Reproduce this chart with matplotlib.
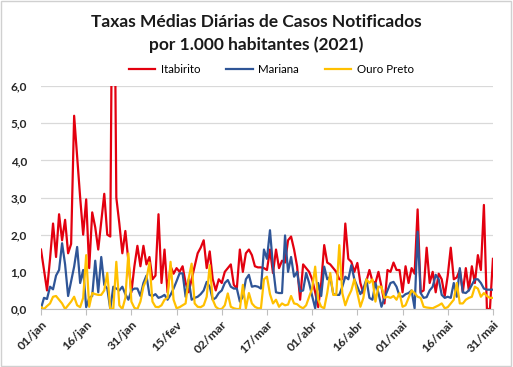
import matplotlib
matplotlib.use("Agg")
import matplotlib.pyplot as plt
import numpy as np
import pandas as pd
from matplotlib.patches import Rectangle

# daily rates per 1,000 inhabitants, 01/jan .. 31/mai 2021
itabirito = [
    1.6, 1.05, 0.5, 1.35, 2.3, 1.4, 2.55, 1.85, 2.4, 1.5,
    1.75, 5.2, 4.1, 3.0, 2.0, 2.95, 1.1, 2.6, 2.2, 1.6,
    2.35, 3.1, 2.0, 1.95, 13.0, 3.0, 2.3, 1.5, 2.1, 1.3,
    0.45, 1.15, 1.7, 1.15, 1.7, 1.2, 1.4, 0.8, 0.9, 2.55,
    0.7, 1.6, 0.45, 1.15, 0.95, 1.1, 1.0, 1.15, 0.7, 0.45,
    0.8, 1.15, 1.5, 1.65, 1.85, 1.1, 1.55, 0.8, 0.5, 0.8,
    0.7, 1.0, 1.1, 1.2, 0.65, 0.55, 1.6, 1.0, 1.5, 1.6,
    1.45, 1.15, 1.12, 1.12, 1.1, 1.05, 1.6, 0.97, 1.6, 1.1,
    1.3, 1.25, 1.85, 1.95, 1.6, 1.15, 0.25, 1.2, 1.1, 1.0,
    0.8, 0.45, 0.05, 0.7, 1.72, 1.25, 1.2, 1.1, 1.0, 0.8,
    0.8, 2.3, 1.35, 1.27, 1.0, 1.24, 0.7, 0.42, 0.75, 1.05,
    0.75, 0.7, 1.0, 0.6, 0.15, 1.05, 1.0, 1.25, 1.05, 1.05,
    0.45, 1.15, 0.7, 1.1, 0.95, 2.68, 0.45, 0.5, 1.65, 0.7,
    1.0, 0.45, 0.95, 0.8, 0.35, 0.9, 1.65, 0.8, 0.85, 1.05,
    0.45, 1.1, 0.5, 1.15, 0.7, 1.45, 1.05, 2.8, 0.0, 0.0,
    1.35,
]
mariana = [
    0.02, 0.3, 0.27, 0.6, 0.53, 0.9, 1.05, 1.77, 1.2, 0.35,
    0.75, 1.14, 1.67, 0.7, 1.05, 0.05, 0.3, 0.35, 1.3, 0.45,
    1.4, 0.65, 0.55, 0.0, 0.6, 0.55, 0.5, 0.6, 0.4, 0.25,
    0.5, 0.55, 0.55, 0.35, 0.7, 0.9, 0.38, 0.35, 0.4, 0.3,
    0.33, 0.38, 0.25, 0.38, 0.55, 0.75, 0.96, 0.96, 0.33, 0.8,
    0.25, 0.3, 0.33, 0.4, 0.5, 0.73, 0.6, 0.25, 0.3, 0.43,
    0.5, 0.7, 0.78, 0.6, 0.55, 0.55, 0.2, 0.33, 0.8, 0.92,
    0.6, 0.62, 0.6, 0.55, 1.6, 1.35, 2.12, 1.14, 0.45, 0.43,
    0.43, 1.98, 1.0, 1.4, 0.87, 1.0, 0.47, 0.5, 0.97, 0.7,
    0.35, 0.02, 0.7, 0.35, 1.14, 0.8, 0.87, 0.4, 0.38, 0.38,
    0.6, 0.87, 0.8, 1.18, 0.8, 0.6, 0.4, 0.55, 0.8, 0.3,
    0.25, 0.7, 0.43, 0.06, 0.3, 0.5, 0.7, 0.73, 0.6, 0.35,
    0.33, 0.4, 0.43, 0.5, 0.02, 2.08, 0.43, 0.3, 0.32, 0.5,
    0.6, 0.92, 0.8, 0.38, 0.3, 0.33, 0.3, 0.7, 0.33, 1.1,
    0.45, 0.43, 0.5, 0.65, 0.8, 0.8, 0.7, 0.55, 0.52, 0.52,
    0.52,
]
ouro_preto = [
    0.05, 0.0, 0.08, 0.15, 0.33, 0.35, 0.25, 0.15, 0.0, 0.1,
    0.2, 0.33, 0.1, 0.05, 0.3, 1.45, 0.06, 0.43, 0.4, 0.38,
    0.38, 0.5, 0.97, 0.0, 0.0, 1.27, 0.1, 0.0, 0.3, 1.5,
    0.2, 0.03, 0.0, 0.2, 0.6, 0.8, 1.25, 0.2, 0.06, 0.05,
    0.1, 0.25, 0.3, 1.27, 0.25, 0.02, 0.05, 0.1, 0.15, 0.82,
    1.22, 0.15, 0.06, 0.05, 0.1, 0.33, 1.18, 0.25, 0.06, 0.0,
    0.0, 0.1, 0.42, 0.06, 0.02, 0.0, 0.0, 0.65, 0.02, 0.43,
    0.15, 0.06, 0.02, 0.02, 0.8, 0.87, 0.4, 0.15, 0.25, 0.06,
    0.15, 0.1, 0.12, 0.35, 0.15, 0.13, 0.06, 0.02, 0.1, 0.33,
    0.55, 1.14, 0.25, 0.06, 0.02, 0.43, 0.97, 0.38, 0.38, 1.72,
    0.43, 0.1, 0.33, 0.5, 0.8, 0.43, 0.06, 0.3, 0.8, 0.7,
    0.8, 0.2, 0.6, 0.6, 0.3, 0.33, 0.3, 0.35, 0.25, 0.43,
    0.06, 0.1, 0.3, 0.5, 0.43, 0.33, 0.3, 0.06, 0.04, 0.03,
    0.02, 0.06, 0.1, 0.15, 0.02, 0.05, 0.15, 0.25, 0.7, 0.15,
    0.15, 0.25, 0.3, 0.33, 0.6, 0.55, 0.33, 0.43, 0.35, 0.3,
    0.3,
]
series_names = ["Itabirito", "Mariana", "Ouro Preto"]
series_colors = ["#e3000f", "#2f5597", "#ffc000"]
tick_labels = ["01/jan", "16/jan", "31/jan", "15/fev", "02/mar", "17/mar",
               "01/abr", "16/abr", "01/mai", "16/mai", "31/mai"]
y_ticks = [0, 1, 2, 3, 4, 5, 6]

dates = pd.date_range("2021-01-01", "2021-05-31", freq="D")
x = np.arange(len(dates))

plt.rcParams["font.family"] = ["Lato", "DejaVu Sans"]

fig = plt.figure(figsize=(5.13, 3.67), dpi=100)
fig.patch.set_facecolor("white")
fig.add_artist(Rectangle((0.002, 0.003), 0.995, 0.994, transform=fig.transFigure,
                         fill=False, edgecolor="#d0d0d0", lw=1.0))

ax = fig.add_axes([0.0799, 0.158, 0.881, 0.6076])
for name, vals, color in zip(series_names, [itabirito, mariana, ouro_preto], series_colors):
    ax.plot(x, vals, color=color, lw=1.6, label=name, solid_joinstyle="round")

ax.set_xlim(0, len(x) - 1)
ax.set_ylim(0, 6)
ax.set_yticks(y_ticks)
ax.set_yticklabels([f"{v:.1f}".replace(".", ",") for v in y_ticks],
                   fontsize=8.5, fontweight="bold", color="#262626")
ax.set_xticks(x[::15])
ax.set_xticklabels(tick_labels, rotation=45, ha="right", rotation_mode="anchor",
                   fontsize=8.8, fontweight="bold", color="#262626")
ax.tick_params(axis="y", length=0, pad=10)
ax.tick_params(axis="x", length=4, color="#bfbfbf", pad=3)
ax.grid(axis="y", color="#d9d9d9", lw=0.9)
ax.set_axisbelow(True)
for side in ["top", "right", "left"]:
    ax.spines[side].set_visible(False)
ax.spines["bottom"].set_color("#bfbfbf")

fig.text(0.5, 0.94, "Taxas Médias Diárias de Casos Notificados", ha="center", va="center",
         fontsize=12.5, fontweight="bold", color="#1a1a1a")
fig.text(0.5, 0.877, "por 1.000 habitantes (2021)", ha="center", va="center",
         fontsize=12.5, fontweight="bold", color="#1a1a1a")

fig.legend(loc="center", bbox_to_anchor=(0.529, 0.81), ncol=3, frameon=False,
           fontsize=8.3, handlelength=2.3, columnspacing=2.2, handletextpad=0.5)

fig.savefig("out.png", dpi=100)
